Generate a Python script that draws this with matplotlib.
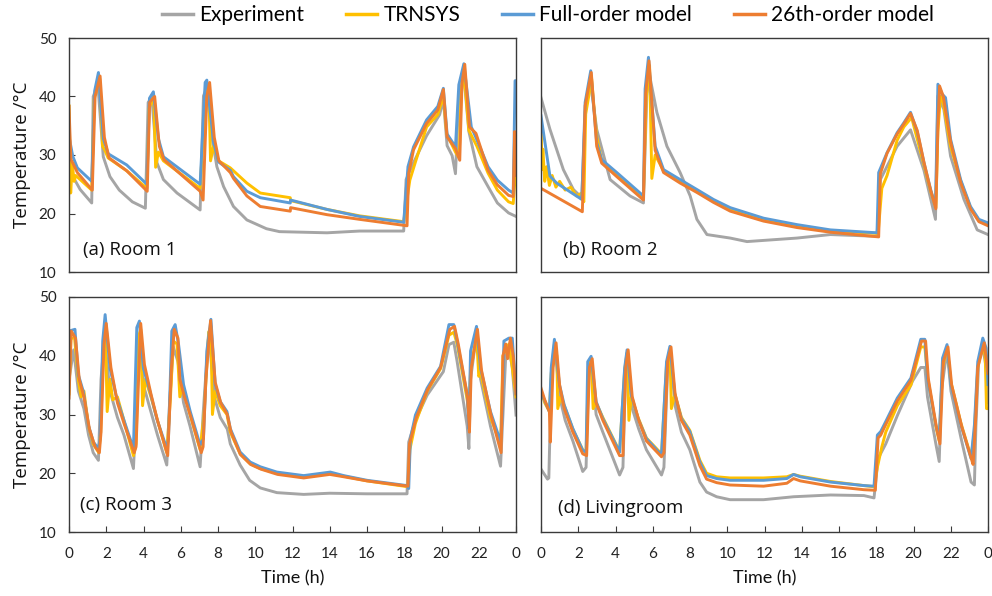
import matplotlib
matplotlib.use("Agg")
import matplotlib.pyplot as plt

# (time h, temperature C), one list per series and room
series_names = ["Experiment", "TRNSYS", "Full-order model", "26th-order model"]
series_colors = ["#A5A5A5", "#FFC000", "#5B9BD5", "#ED7D31"]
panel_titles = ["(a) Room 1", "(b) Room 2", "(c) Room 3", "(d) Livingroom"]
time_ticks = [0, 2, 4, 6, 8, 10, 12, 14, 16, 18, 20, 22, 24]
time_labels = ["0", "2", "4", "6", "8", "10", "12", "14", "16", "18", "20", "22", "0"]
temp_ticks = [10, 20, 30, 40, 50]

# Room 1
a_exp = [(0.0, 28.0), (0.3, 25.8), (0.6, 24.1), (1.22, 21.8), (1.3, 40.0), (1.55, 42.0), (1.84, 29.7),
         (2.2, 26.3), (2.7, 24.0), (3.4, 22.0), (4.1, 20.9), (4.25, 39.0), (4.45, 39.8), (4.72, 28.7),
         (5.07, 25.8), (5.8, 23.5), (7.04, 20.6), (7.22, 40.1), (7.4, 41.5), (7.67, 33.1), (7.94, 28.0),
         (8.3, 24.6), (8.83, 21.2), (9.55, 18.9), (10.6, 17.4), (11.3, 16.9), (13.85, 16.7), (15.6, 17.0),
         (17.97, 17.0), (18.1, 25.8), (18.5, 28.7), (19.2, 33.3), (19.9, 36.9), (20.1, 39.5), (20.3, 31.6),
         (20.57, 29.9), (20.75, 26.8), (20.93, 40.1), (21.2, 43.5), (21.47, 34.0), (21.9, 28.0), (22.5, 24.6),
         (23.0, 21.8), (23.6, 20.1), (23.8, 19.8), (24.0, 19.5)]
a_trnsys = [(0.0, 38.4), (0.09, 23.5), (0.18, 28.5), (0.27, 25.5), (0.36, 26.5), (1.22, 24.0), (1.35, 39.5),
            (1.65, 43.0), (1.8, 31.5), (1.9, 31.0), (2.1, 29.5), (3.1, 27.3), (4.18, 24.3), (4.3, 38.0),
            (4.55, 40.0), (4.65, 27.9), (4.8, 30.5), (5.07, 29.0), (7.04, 24.3), (7.33, 40.0), (7.5, 42.0),
            (7.6, 29.0), (7.76, 31.5), (8.03, 29.0), (8.66, 27.8), (9.55, 25.2), (10.27, 23.5), (11.88, 22.7),
            (11.9, 22.2), (13.85, 20.7), (15.6, 19.6), (17.97, 18.6), (18.3, 25.7), (18.6, 28.8), (19.2, 34.8),
            (19.8, 36.9), (20.1, 40.1), (20.28, 33.6), (20.75, 30.5), (20.95, 29.5), (21.05, 40.0), (21.2, 44.6),
            (21.47, 34.2), (21.9, 31.5), (22.5, 26.9), (23.0, 24.0), (23.6, 22.0), (23.85, 21.7), (23.95, 26.0),
            (24.0, 26.0)]
a_full = [(0.0, 33.2), (0.2, 29.8), (0.45, 27.8), (1.22, 25.5), (1.38, 41.0), (1.58, 44.1), (1.84, 32.8),
          (2.11, 30.2), (3.1, 28.3), (4.18, 25.0), (4.32, 39.7), (4.53, 40.8), (4.8, 32.8), (5.07, 29.7),
          (7.04, 25.0), (7.31, 42.4), (7.4, 42.8), (7.76, 32.2), (8.03, 28.8), (8.66, 27.4), (8.83, 26.3),
          (9.55, 23.8), (10.27, 22.7), (11.88, 21.8), (11.9, 22.3), (13.85, 20.7), (15.6, 19.5), (17.97, 18.5),
          (18.2, 28.0), (18.5, 31.4), (19.2, 36.0), (19.8, 38.3), (20.1, 41.4), (20.3, 33.6), (20.75, 31.4),
          (20.93, 42.0), (21.2, 45.6), (21.6, 34.8), (21.9, 32.6), (22.5, 28.0), (23.0, 25.7), (23.6, 24.0),
          (23.85, 23.5), (23.95, 42.7), (24.0, 42.7)]
a_26th = [(0.0, 38.3), (0.1, 29.3), (0.45, 27.0), (1.25, 24.0), (1.4, 40.0), (1.67, 43.5), (1.9, 33.0),
          (2.15, 29.5), (3.1, 27.3), (4.2, 23.8), (4.33, 39.0), (4.6, 40.0), (4.85, 31.5), (5.1, 29.2),
          (7.04, 23.8), (7.2, 22.3), (7.4, 40.0), (7.55, 42.4), (7.8, 33.0), (8.05, 29.0), (8.66, 27.0),
          (8.83, 26.0), (9.55, 23.0), (10.27, 21.2), (11.88, 20.4), (11.9, 21.0), (13.85, 19.8), (15.6, 19.0),
          (18.15, 17.9), (18.24, 26.9), (18.5, 30.9), (19.2, 35.4), (19.8, 37.7), (20.1, 41.2), (20.3, 33.1),
          (20.75, 31.1), (20.98, 29.1), (21.1, 42.3), (21.25, 45.5), (21.5, 34.8), (21.85, 33.7), (22.5, 27.4),
          (23.0, 24.9), (23.6, 23.1), (23.85, 22.9), (23.93, 34.0), (24.0, 26.5)]

# Room 2
b_exp = [(0.0, 39.8), (0.48, 34.4), (1.2, 27.5), (1.74, 24.1), (2.19, 22.7), (2.37, 37.3), (2.63, 43.0),
         (2.99, 34.4), (3.71, 25.8), (4.78, 23.0), (5.5, 21.8), (5.68, 40.1), (5.8, 44.1), (6.22, 37.3),
         (6.76, 31.5), (7.47, 27.0), (8.01, 23.0), (8.37, 19.0), (8.91, 16.4), (10.16, 15.8), (11.06, 15.2),
         (13.74, 15.8), (15.54, 16.4), (18.04, 16.1), (18.22, 25.8), (18.76, 29.2), (19.12, 31.5), (19.84, 34.3),
         (20.56, 27.4), (21.18, 19.0), (21.31, 40.1), (21.63, 37.8), (21.99, 29.8), (22.71, 22.4), (23.42, 17.2),
         (24.0, 16.4)]
b_trnsys = [(0.0, 36.0), (0.05, 27.5), (0.1, 31.0), (0.2, 25.5), (0.3, 28.0), (0.45, 24.8), (0.6, 26.5),
            (0.8, 24.5), (1.0, 25.5), (1.3, 24.0), (1.6, 24.5), (1.9, 23.0), (2.19, 23.5), (2.3, 22.0),
            (2.4, 37.0), (2.72, 43.0), (2.85, 38.0), (3.0, 33.0), (3.26, 29.0), (4.07, 26.7), (5.5, 22.8),
            (5.65, 40.0), (5.83, 45.3), (5.95, 26.0), (6.13, 30.0), (6.58, 27.3), (7.47, 25.5), (8.37, 23.9),
            (9.26, 22.2), (10.16, 20.8), (11.95, 19.0), (13.74, 17.9), (15.54, 17.0), (18.1, 16.6), (18.3, 24.3),
            (18.58, 26.5), (19.12, 32.5), (19.48, 34.8), (19.9, 36.4), (20.56, 28.3), (20.92, 23.8), (21.2, 21.0),
            (21.31, 34.0), (21.45, 40.1), (21.6, 39.0), (21.8, 35.0), (21.99, 31.5), (22.53, 25.6), (23.06, 21.0),
            (23.51, 18.8), (24.0, 18.2)]
b_full = [(0.0, 36.7), (0.48, 26.4), (0.84, 25.2), (2.19, 22.4), (2.37, 39.0), (2.67, 44.4), (2.99, 32.1),
          (3.26, 29.2), (4.07, 27.0), (5.5, 23.0), (5.59, 41.3), (5.77, 46.7), (6.13, 31.5), (6.58, 27.5),
          (7.47, 25.8), (8.37, 24.1), (9.26, 22.4), (10.16, 21.0), (11.95, 19.2), (13.74, 18.1), (15.54, 17.2),
          (18.04, 16.7), (18.13, 27.0), (18.58, 30.4), (19.12, 33.8), (19.48, 35.5), (19.84, 37.3), (20.2, 34.0),
          (20.56, 28.7), (20.92, 24.1), (21.18, 21.2), (21.31, 42.1), (21.54, 40.4), (21.72, 39.8), (21.99, 32.7),
          (22.53, 25.8), (23.06, 21.2), (23.51, 19.0), (24.0, 18.4)]
b_26th = [(0.0, 24.3), (2.22, 20.3), (2.37, 38.4), (2.7, 44.1), (2.99, 31.5), (3.26, 28.6), (4.07, 26.3),
          (5.5, 22.3), (5.62, 40.5), (5.8, 46.1), (6.13, 30.8), (6.58, 27.0), (7.47, 25.2), (8.37, 23.6),
          (9.26, 21.9), (10.16, 20.4), (11.95, 18.7), (13.74, 17.6), (15.54, 16.8), (18.13, 16.0), (18.22, 26.8),
          (18.58, 30.3), (19.12, 33.6), (19.48, 35.3), (19.84, 37.1), (20.2, 34.2), (20.56, 28.8), (20.92, 24.0),
          (21.2, 20.8), (21.31, 35.0), (21.4, 41.8), (21.6, 40.0), (21.99, 32.3), (22.53, 25.3), (23.06, 20.8),
          (23.51, 18.6), (24.0, 17.9)]

# Room 3
c_exp = [(0.0, 36.0), (0.25, 41.0), (0.5, 34.0), (0.8, 31.0), (1.05, 26.5), (1.3, 23.5), (1.58, 22.2),
         (1.72, 36.0), (1.9, 43.0), (2.2, 34.0), (2.6, 29.5), (2.95, 26.5), (3.46, 20.8), (3.6, 30.0),
         (3.78, 43.5), (4.0, 35.0), (4.35, 31.0), (4.75, 26.5), (5.25, 21.4), (5.4, 32.0), (5.6, 41.5),
         (5.85, 39.0), (6.15, 32.0), (6.5, 28.0), (7.04, 21.1), (7.2, 30.0), (7.5, 44.0), (7.8, 33.0),
         (8.12, 29.5), (8.5, 27.5), (8.66, 25.0), (9.19, 21.4), (9.7, 18.8), (10.27, 17.5), (11.16, 16.7),
         (12.6, 16.4), (14.0, 16.6), (16.0, 16.5), (18.15, 16.5), (18.24, 25.3), (18.6, 29.0), (19.23, 33.3),
         (20.1, 37.3), (20.4, 41.9), (20.66, 42.3), (20.84, 39.0), (21.38, 28.0), (21.47, 24.2), (21.56, 36.0),
         (21.88, 43.6), (22.1, 36.0), (22.63, 28.0), (23.17, 21.2), (23.3, 30.0), (23.45, 40.0), (23.62, 41.3),
         (23.8, 38.0), (24.0, 29.9)]
c_trnsys = [(0.0, 33.5), (0.1, 43.0), (0.3, 43.0), (0.5, 36.0), (0.65, 33.0), (0.8, 34.0), (1.05, 28.0),
            (1.3, 25.0), (1.6, 23.5), (1.7, 27.0), (1.85, 42.0), (1.95, 45.0), (2.05, 30.5), (2.2, 36.0),
            (2.35, 32.5), (2.6, 33.0), (2.95, 29.0), (3.46, 23.0), (3.6, 25.0), (3.75, 43.5), (3.85, 44.5),
            (3.95, 31.5), (4.1, 36.0), (4.4, 33.0), (4.75, 29.0), (5.25, 23.5), (5.45, 33.0), (5.6, 42.5),
            (5.8, 42.0), (5.95, 33.0), (6.1, 35.0), (6.5, 30.0), (7.04, 24.0), (7.25, 30.0), (7.5, 44.0),
            (7.62, 45.0), (7.7, 30.0), (7.85, 34.0), (8.12, 31.5), (8.48, 30.0), (8.66, 27.0), (9.19, 23.3),
            (9.73, 21.6), (10.27, 20.8), (11.16, 20.0), (12.6, 19.5), (14.0, 20.0), (14.75, 19.5), (16.0, 18.7),
            (18.2, 17.7), (18.3, 24.0), (18.6, 28.5), (19.23, 34.0), (19.95, 37.8), (20.4, 43.5), (20.66, 44.0),
            (20.84, 42.0), (21.38, 32.5), (21.47, 30.0), (21.56, 37.5), (21.88, 43.5), (22.0, 36.5), (22.1, 37.0),
            (22.63, 29.5), (23.17, 25.0), (23.3, 40.0), (23.5, 41.5), (23.62, 42.0), (23.8, 38.0), (24.0, 33.0)]
c_full = [(0.0, 44.2), (0.32, 44.5), (0.5, 36.8), (0.77, 33.9), (1.04, 28.2), (1.31, 25.3), (1.58, 24.2),
          (1.67, 25.9), (1.81, 42.5), (1.94, 47.0), (2.2, 37.9), (2.56, 32.8), (2.92, 29.3), (3.46, 24.2),
          (3.64, 44.8), (3.78, 45.9), (3.99, 37.9), (4.35, 33.9), (4.71, 29.3), (5.25, 24.2), (5.34, 25.9),
          (5.52, 44.2), (5.7, 45.3), (5.88, 42.0), (6.15, 35.1), (6.51, 30.5), (7.04, 24.8), (7.22, 25.9),
          (7.4, 40.8), (7.62, 46.2), (7.85, 35.1), (8.12, 32.2), (8.48, 30.5), (8.66, 27.6), (9.19, 23.6),
          (9.73, 21.9), (10.27, 21.1), (11.16, 20.2), (12.6, 19.6), (14.03, 20.2), (14.75, 19.6), (16.0, 18.8),
          (18.15, 17.9), (18.24, 17.4), (18.33, 25.9), (18.6, 29.9), (19.23, 34.5), (19.95, 38.2), (20.4, 45.3),
          (20.66, 45.3), (20.84, 42.5), (21.38, 33.3), (21.47, 27.6), (21.56, 40.8), (21.88, 45.0), (22.1, 37.9),
          (22.63, 30.5), (23.17, 25.4), (23.26, 29.9), (23.35, 42.5), (23.62, 43.0), (23.8, 43.0), (24.0, 33.6)]
c_26th = [(0.0, 32.8), (0.12, 44.2), (0.35, 43.0), (0.55, 36.0), (0.8, 33.0), (1.1, 27.5), (1.4, 24.5),
          (1.63, 23.5), (1.72, 27.0), (1.88, 42.0), (2.0, 45.5), (2.25, 38.0), (2.6, 32.0), (2.95, 28.5),
          (3.5, 23.5), (3.6, 24.5), (3.7, 33.0), (3.85, 45.5), (4.05, 38.5), (4.4, 33.5), (4.75, 29.0),
          (5.3, 23.0), (5.5, 38.0), (5.65, 44.5), (5.85, 43.0), (5.95, 36.0), (6.2, 33.0), (6.55, 29.5),
          (7.1, 23.5), (7.2, 24.5), (7.35, 36.0), (7.6, 46.0), (7.85, 35.5), (8.15, 32.0), (8.5, 30.0),
          (8.7, 27.0), (9.2, 23.2), (9.75, 21.5), (10.3, 20.7), (11.2, 19.8), (12.6, 19.2), (14.0, 19.8),
          (14.75, 19.4), (16.0, 18.7), (18.2, 17.8), (18.28, 25.0), (18.65, 29.5), (19.25, 34.2), (19.95, 38.0),
          (20.45, 44.5), (20.7, 45.0), (20.9, 42.0), (21.4, 33.0), (21.5, 27.0), (21.6, 38.0), (21.93, 44.5),
          (22.15, 37.5), (22.65, 30.0), (23.2, 23.5), (23.3, 40.0), (23.45, 42.0), (23.55, 39.5), (23.7, 43.0),
          (23.85, 40.0), (24.0, 33.5)]

# Livingroom
d_exp = [(0.0, 20.7), (0.35, 19.0), (0.42, 19.2), (0.55, 36.0), (0.75, 41.5), (1.0, 33.0), (1.3, 29.0),
         (1.71, 25.5), (2.24, 20.3), (2.42, 21.0), (2.55, 37.0), (2.7, 38.5), (2.96, 30.0), (3.32, 27.0),
         (4.22, 19.7), (4.4, 21.0), (4.55, 38.5), (4.65, 40.0), (4.9, 31.0), (5.25, 27.5), (5.66, 24.0),
         (6.47, 19.7), (6.6, 21.0), (6.8, 38.0), (6.95, 40.5), (7.2, 31.5), (7.54, 27.0), (7.99, 24.0),
         (8.53, 18.5), (8.89, 16.8), (9.43, 16.0), (10.15, 15.5), (11.95, 15.5), (13.56, 16.0), (15.54, 16.3),
         (17.34, 16.2), (17.88, 15.8), (18.1, 22.5), (18.51, 25.0), (19.13, 29.8), (19.95, 35.7), (20.39, 38.0),
         (20.61, 38.0), (20.75, 33.0), (21.2, 25.0), (21.38, 22.0), (21.5, 34.0), (21.8, 41.0), (22.01, 34.0),
         (22.55, 26.0), (23.09, 18.5), (23.27, 18.0), (23.35, 28.0), (23.5, 39.0), (23.72, 41.5), (23.9, 38.0),
         (24.0, 32.0)]
d_trnsys = [(0.0, 34.0), (0.2, 32.0), (0.45, 30.5), (0.55, 37.0), (0.72, 42.0), (0.85, 40.0), (0.9, 31.0),
            (1.05, 33.0), (1.25, 31.5), (1.71, 27.5), (2.24, 24.0), (2.42, 23.5), (2.55, 38.0), (2.69, 39.5),
            (2.8, 31.0), (2.96, 32.0), (3.32, 29.5), (4.22, 23.7), (4.49, 37.5), (4.62, 40.5), (4.72, 29.0),
            (4.85, 33.0), (5.21, 29.5), (5.66, 26.0), (6.47, 23.3), (6.74, 38.5), (6.92, 41.0), (7.0, 31.0),
            (7.19, 33.5), (7.54, 29.5), (7.99, 27.3), (8.53, 22.2), (8.89, 20.0), (9.43, 19.4), (10.15, 19.2),
            (11.95, 19.2), (13.2, 19.4), (13.56, 19.8), (13.92, 19.5), (15.54, 18.6), (17.34, 17.9), (17.88, 17.7),
            (18.06, 21.0), (18.3, 24.5), (18.51, 27.0), (19.13, 31.5), (19.86, 35.0), (20.39, 41.5), (20.61, 41.5),
            (20.75, 36.5), (21.2, 28.0), (21.38, 25.5), (21.56, 38.0), (21.8, 41.5), (22.01, 35.5), (22.55, 28.5),
            (23.09, 22.8), (23.27, 27.0), (23.45, 38.0), (23.72, 42.0), (23.85, 40.0), (23.92, 31.0), (24.0, 31.0)]
d_full = [(0.0, 33.9), (0.18, 32.5), (0.45, 30.5), (0.55, 38.0), (0.72, 42.8), (0.99, 35.1), (1.25, 31.6),
          (1.71, 27.6), (2.24, 23.9), (2.42, 23.6), (2.51, 39.0), (2.69, 39.9), (2.96, 32.2), (3.32, 29.3),
          (4.22, 23.6), (4.49, 37.9), (4.62, 41.0), (4.85, 33.3), (5.21, 29.3), (5.66, 25.9), (6.47, 23.1),
          (6.74, 39.0), (6.92, 41.6), (7.19, 33.3), (7.54, 29.3), (7.99, 27.1), (8.53, 21.9), (8.89, 19.6),
          (9.43, 19.1), (10.15, 18.8), (11.95, 18.8), (13.2, 19.1), (13.56, 19.8), (13.92, 19.4), (15.54, 18.5),
          (17.34, 17.9), (17.88, 17.8), (18.06, 26.5), (18.24, 27.1), (18.51, 28.8), (19.13, 32.8), (19.86, 36.2),
          (20.39, 42.8), (20.61, 42.8), (20.75, 36.2), (21.2, 28.2), (21.38, 25.9), (21.56, 39.6), (21.8, 41.9),
          (22.01, 35.1), (22.55, 28.2), (23.09, 22.5), (23.27, 28.2), (23.45, 39.0), (23.72, 43.0), (23.9, 41.3),
          (24.0, 35.1)]
d_26th = [(0.0, 34.5), (0.2, 32.5), (0.45, 30.5), (0.5, 25.3), (0.65, 38.0), (0.81, 42.2), (1.0, 35.0),
          (1.25, 31.0), (1.71, 27.0), (2.24, 23.3), (2.45, 23.0), (2.6, 38.0), (2.75, 39.5), (2.96, 32.0),
          (3.32, 29.0), (4.22, 23.0), (4.4, 23.0), (4.55, 38.0), (4.68, 41.0), (4.9, 33.0), (5.25, 29.0),
          (5.66, 25.5), (6.47, 22.8), (6.6, 23.5), (6.8, 39.0), (6.98, 41.5), (7.2, 33.5), (7.54, 29.0),
          (7.99, 26.5), (8.53, 21.3), (8.89, 19.0), (9.43, 18.4), (10.15, 18.0), (11.95, 17.8), (13.2, 18.3),
          (13.56, 19.1), (13.92, 18.7), (15.54, 17.8), (17.34, 17.2), (17.95, 17.1), (18.1, 26.0), (18.24, 26.5),
          (18.51, 28.3), (19.13, 32.3), (19.86, 35.8), (20.43, 42.5), (20.65, 42.5), (20.8, 36.0), (21.25, 27.5),
          (21.42, 25.0), (21.6, 39.0), (21.85, 41.5), (22.05, 35.0), (22.6, 27.8), (23.15, 22.0), (23.2, 21.5),
          (23.35, 30.0), (23.45, 38.0), (23.8, 42.2), (24.0, 37.0)]

rooms = [
    [a_exp, a_trnsys, a_full, a_26th],
    [b_exp, b_trnsys, b_full, b_26th],
    [c_exp, c_trnsys, c_full, c_26th],
    [d_exp, d_trnsys, d_full, d_26th],
]

fig = plt.figure(figsize=(9.92, 5.96), dpi=100)
W, H = 992, 596
# axes boxes in pixels: left, top, right, bottom
boxes = [(69, 38, 516, 272), (541, 38, 988, 272), (69, 297, 516, 532), (541, 297, 988, 532)]
label_pos = [(0.031, 0.094), (0.05, 0.094), (0.025, 0.115), (0.038, 0.102)]
frame_col = "#3a3a3a"

for i, (l, t, r, b) in enumerate(boxes):
    ax = fig.add_axes([l / W, 1 - b / H, (r - l) / W, (b - t) / H])
    for data, name, col in zip(rooms[i], series_names, series_colors):
        tt = [p[0] for p in data]
        vv = [p[1] for p in data]
        ax.plot(tt, vv, color=col, lw=2.1, label=name, solid_joinstyle="round")
    ax.set_xlim(0, 24)
    ax.set_ylim(10, 50)
    ax.set_xticks(time_ticks)
    ax.set_yticks(temp_ticks)
    for s in ax.spines.values():
        s.set_color(frame_col)
        s.set_linewidth(1.0)
    ax.tick_params(direction="in", length=4, width=0.8, color=frame_col, labelsize=11,
                   labelcolor="#222222")
    ax.tick_params(axis="y", pad=9)
    ax.tick_params(axis="x", pad=11)
    if i < 2:
        ax.tick_params(axis="x", length=0, labelbottom=False)
    else:
        ax.set_xticklabels(time_labels, family="Lato")
    if i % 2 == 1:
        ax.tick_params(axis="y", length=0, labelleft=False)
    else:
        ax.set_yticklabels([str(v) for v in temp_ticks], family="Lato")
    ax.text(label_pos[i][0], label_pos[i][1], panel_titles[i], transform=ax.transAxes,
            fontsize=13.5, family="Open Sans", va="center", ha="left", color="#111111")

for yc in [(38 + 272) / 2, (297 + 532) / 2]:
    fig.text(22 / W, 1 - yc / H, "Temperature /°C", rotation=90, fontsize=13.5,
             family="Open Sans", ha="center", va="center", color="#111111")
for xc in [(69 + 516) / 2, (541 + 988) / 2]:
    fig.text(xc / W, 1 - 578 / H, "Time (h)", fontsize=13, family="Lato",
             ha="center", va="center", color="#111111")

handles = [plt.Line2D([], [], color=c, lw=2.5) for c in series_colors]
fig.legend(handles, series_names, loc="center", bbox_to_anchor=(548 / W, 1 - 15 / H), ncol=4,
           frameon=False, prop={"family": "Lato", "size": 15}, handlelength=1.5,
           handletextpad=0.3, columnspacing=2.0)

fig.savefig("out.png", dpi=100)
